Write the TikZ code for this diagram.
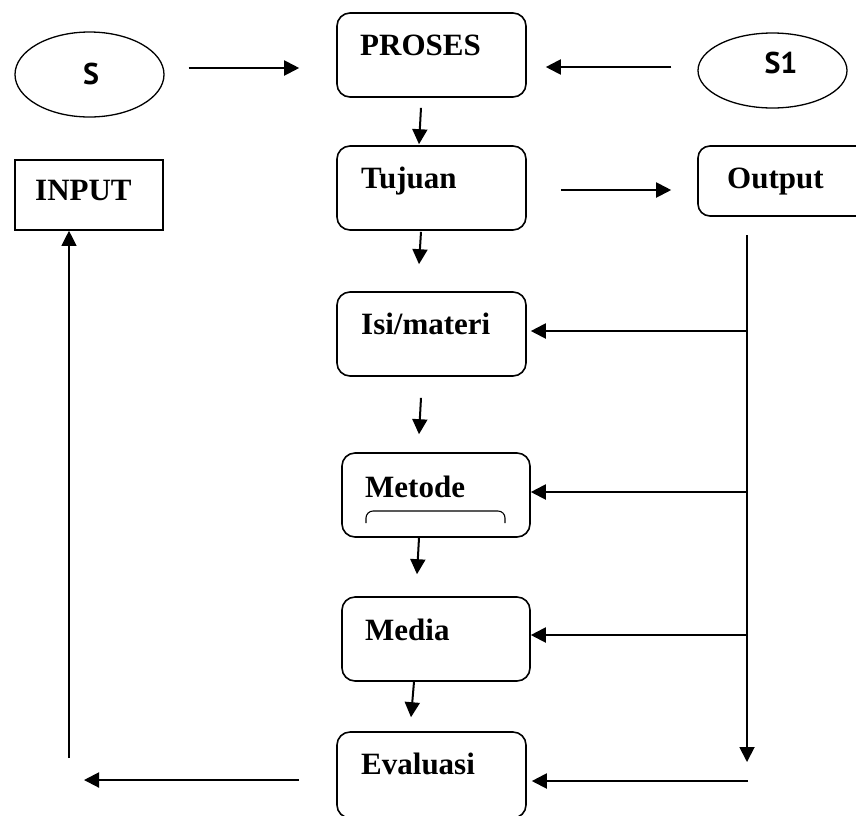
\documentclass[tikz,border=0pt]{standalone}
\usepackage{fontspec}
\setmainfont{Liberation Serif}
\newfontfamily\sfont{PT Sans}
\usetikzlibrary{arrows.meta,shapes.geometric}
\tikzset{
  rbox/.style={draw, line width=1.6pt, rounded corners=13pt, minimum width=189pt, minimum height=84pt, inner sep=0pt},
  sbox/.style={draw, line width=1.6pt, minimum width=148pt, minimum height=70pt, inner sep=0pt},
  oval/.style={draw, line width=1.3pt, ellipse, minimum width=149pt, inner sep=0pt},
  lbl/.style={anchor=base west, inner sep=0pt, font=\fontsize{31}{31}\selectfont\bfseries},
  slbl/.style={anchor=base, inner sep=0pt, font=\fontsize{30}{30}\selectfont\sfont\bfseries},
  arr/.style={line width=2pt, -{Triangle[length=15pt,width=15pt]}},
  thinln/.style={line width=1.1pt},
  midln/.style={line width=1.8pt}
}
\begin{document}
\begin{tikzpicture}[x=1pt,y=-1pt]
\useasboundingbox (0,0) rectangle (856,815);
\clip (0,0) rectangle (856,815);
% shapes
\node[oval, minimum height=85pt] (s) at (89.5,74.5) {};
\node[oval, minimum height=75pt] (s1) at (772.5,70.5) {};
\node[rbox] (proses) at (431.5,55) {};
\node[rbox] (tujuan) at (431.5,188) {};
\node[rbox] (isi) at (431.5,334) {};
\node[rbox, minimum width=188pt] (metode) at (436,495) {};
\node[rbox, minimum width=188pt] (media) at (436,639) {};
\node[rbox, minimum height=86pt] (evaluasi) at (431.5,775) {};
\node[rbox, minimum width=192pt, minimum height=70pt, rounded corners=12pt] (output) at (794,181) {};
\node[sbox] (input) at (89,195) {};
% texts
\node[slbl] (ts) at (91,84) {S};
\node[slbl] (ts1) at (781,73) {S1};
\node[lbl] (tproses) at (360,55) {PROSES};
\node[lbl] (ttujuan) at (361,188) {Tujuan};
\node[lbl] (toutput) at (727,188) {Output};
\node[lbl] (tisi) at (361,334) {Isi/materi};
\node[lbl] (tmetode) at (365,497) {Metode};
\node[lbl] (tmedia) at (365,640) {Media};
\node[lbl] (tevaluasi) at (361,774) {Evaluasi};
\node[lbl] (tinput) at (35,200) {INPUT};
% bracket inside Metode
\draw[line width=1.1pt, rounded corners=7pt] ([shift={(-70,28)}]metode.center) -- ([shift={(-70,16)}]metode.center) -- ([shift={(69,16)}]metode.center) -- ([shift={(69,28)}]metode.center);
% top connectors
\draw[arr] ([shift={(24,-6.5)}]s.east) -- ([shift={(-37,13)}]proses.west);
\draw[arr] ([shift={(-26,-3.5)}]s1.west) -- ([shift={(19,12)}]proses.east);
\draw[arr] ([shift={(-10.5,10)}]proses.south) -- ([shift={(-12.5,-1)}]tujuan.north);
\draw[arr] ([shift={(34,2)}]tujuan.east) -- ([shift={(-26,9)}]output.west);
% central chain
\draw[arr] ([shift={(-10.5,1)}]tujuan.south) -- ([shift={(-12.5,-27)}]isi.north);
\draw[arr] ([shift={(-10.5,21)}]isi.south) -- ([shift={(-17,-18)}]metode.north);
\draw[arr] ([shift={(-17,0)}]metode.south) -- ([shift={(-19,-22)}]media.north);
\draw[arr] ([shift={(-22,0)}]media.south) -- ([shift={(-20.5,-14)}]evaluasi.north);
% feedback on the left
\coordinate (lb) at (84,780);
\coordinate (lv) at (69,758);
\draw[arr] ([shift={(-37,5)}]evaluasi.west) -- (lb);
\draw[thinln, -{Triangle[length=15pt,width=15pt]}] (lv) -- (lv |- input.south);
% right trunk
\coordinate (rtop) at (747,235);
\coordinate (rbot) at (747,762);
\coordinate (r1) at (747,331);
\coordinate (r2) at (747,492);
\coordinate (r3) at (747,635);
\coordinate (r4) at (748,781);
\draw[midln, -{Triangle[length=15pt,width=15pt]}] (rtop) -- (rbot);
\draw[arr] (r1) -- ([shift={(4,-3)}]isi.east);
\draw[arr] (r2) -- ([shift={(0,-3)}]metode.east);
\draw[arr] (r3) -- ([shift={(0,-4)}]media.east);
\draw[arr] (r4) -- ([shift={(5,6)}]evaluasi.east);
\end{tikzpicture}
\end{document}
